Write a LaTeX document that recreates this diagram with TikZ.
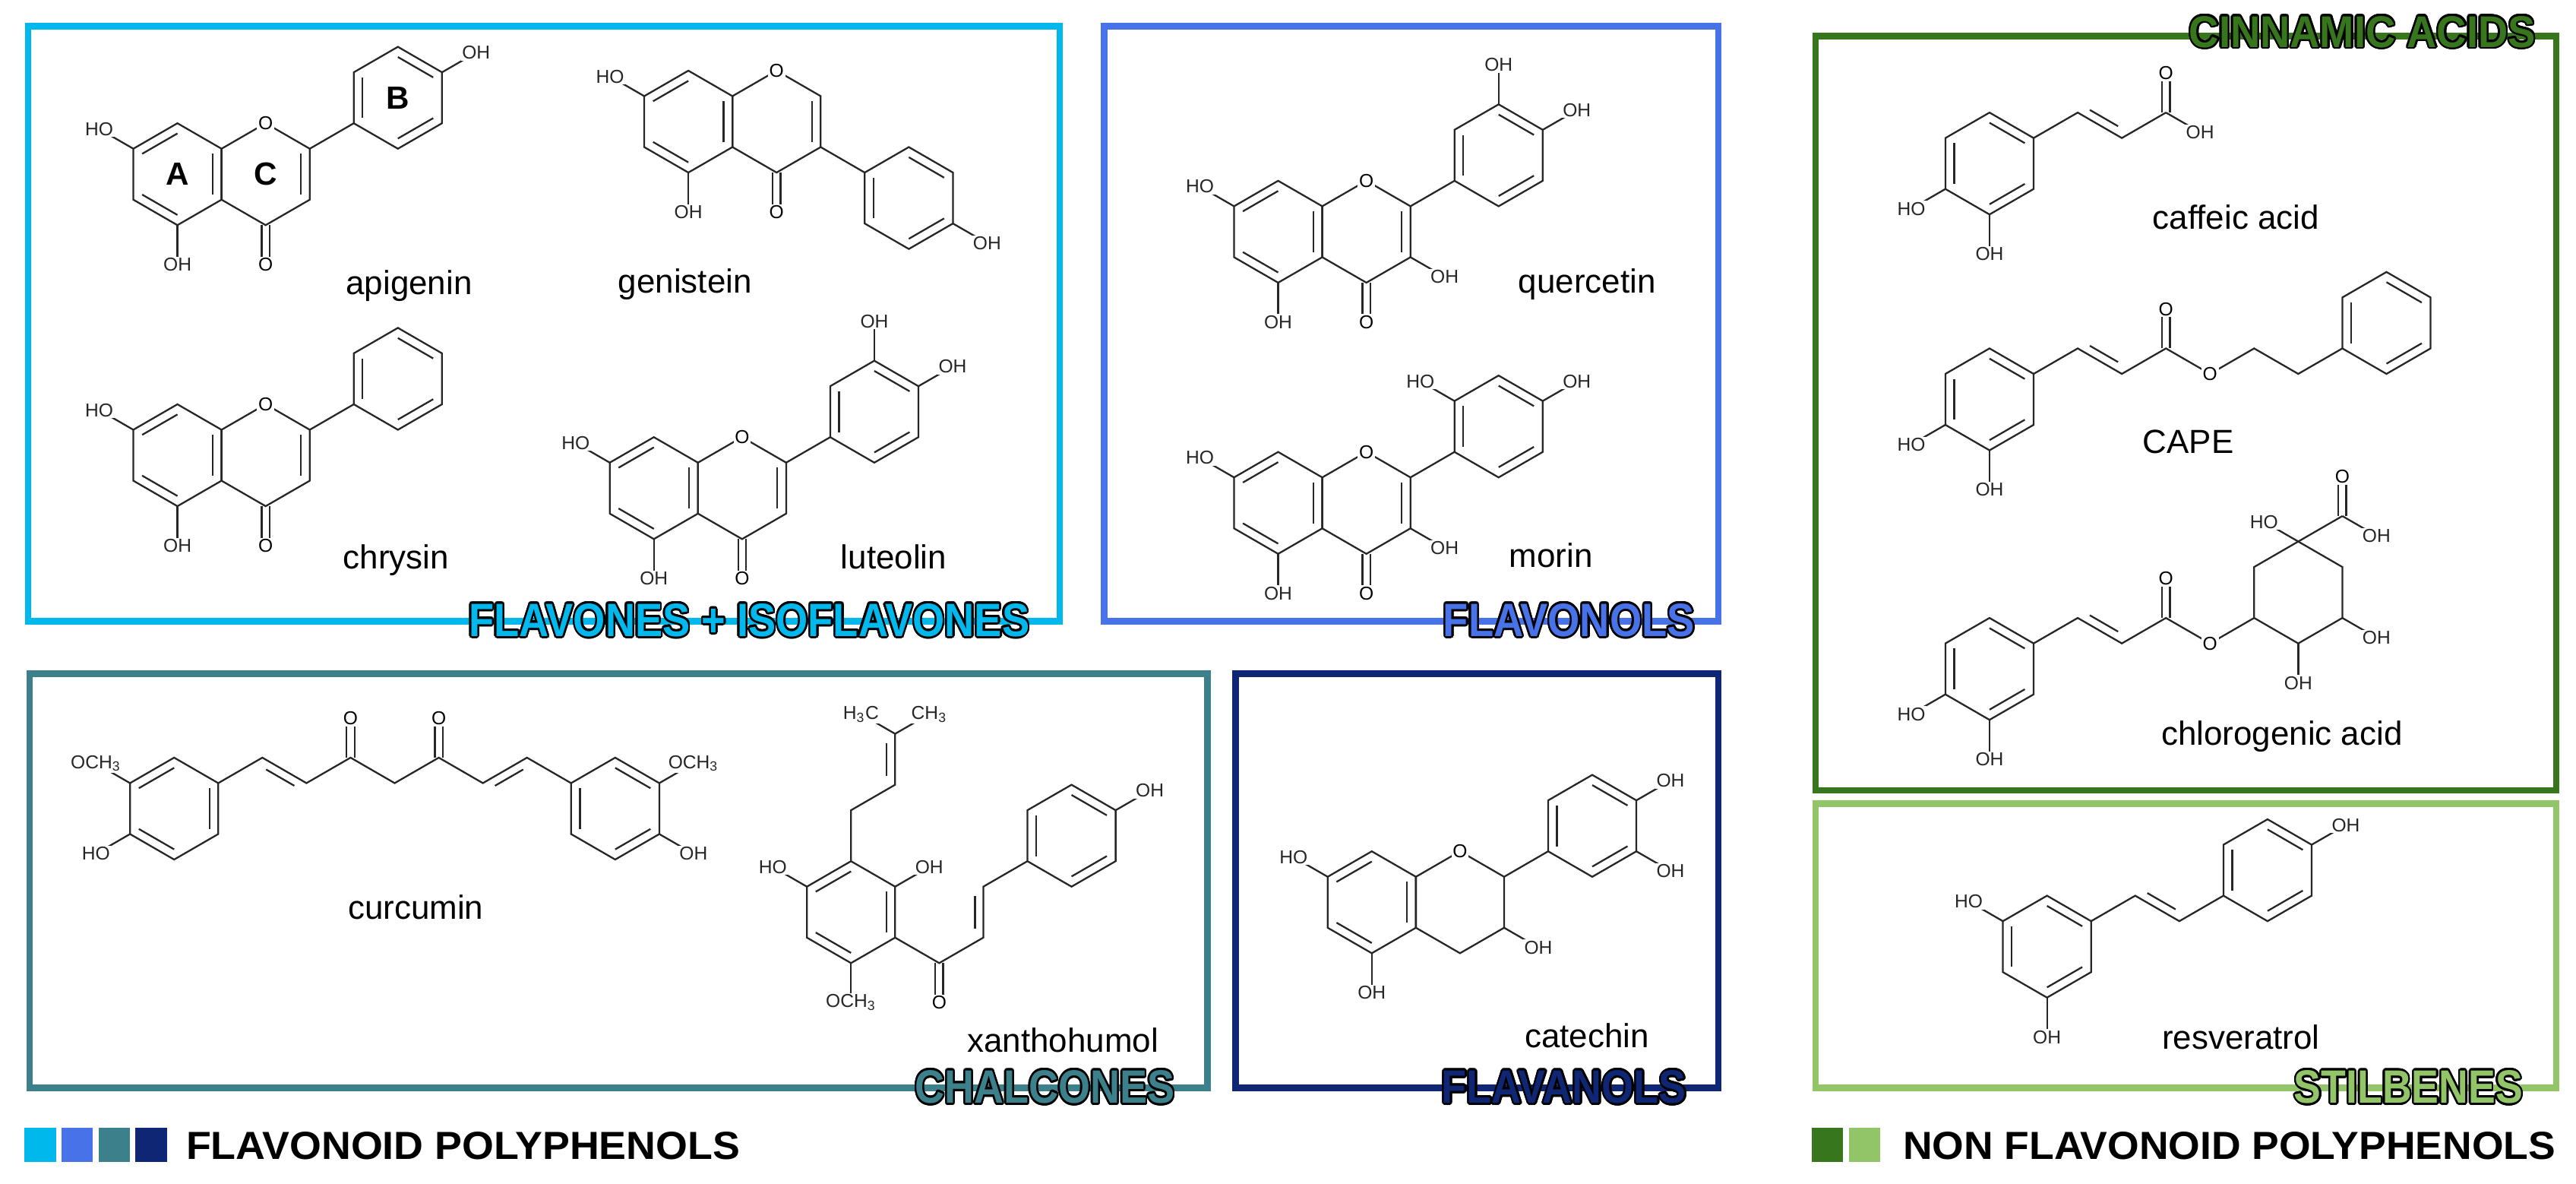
\documentclass[tikz,border=0pt]{standalone}
\usepackage{fontspec}
\setmainfont{Liberation Sans}
\usepackage{graphicx}
\usepackage{contour}
\contourlength{0.45pt}
\contournumber{24}
\usetikzlibrary{calc}

\definecolor{cFlav}{RGB}{0,184,236}
\definecolor{cFlol}{RGB}{72,114,232}
\definecolor{cChal}{RGB}{60,128,140}
\definecolor{cFlan}{RGB}{14,38,116}
\definecolor{cCinn}{RGB}{56,118,30}
\definecolor{cStil}{RGB}{146,196,104}

\tikzset{
  bond/.style={line width=0.65pt,black!85},
  atom/.style={fill=white,inner sep=0.5pt,font=\fontsize{7}{8}\selectfont},
  molname/.style={font=\fontsize{12.5}{14}\selectfont},
  ringlbl/.style={font=\fontsize{12}{14}\selectfont\bfseries},
  box/.style={line width=2.4pt},
  grplabel/.style={inner sep=0pt}
}

\def\bl{31}
% hexagon on the coordinate (#1c), corners #10 (top) ... #15 clockwise
\newcommand\ring[1]{%
  \foreach \i in {0,...,5}{\coordinate (#1\i) at ($(#1c)+(270+60*\i:\bl)$);}
  \draw[bond] (#10)--(#11)--(#12)--(#13)--(#14)--(#15)--cycle;}
\newcommand\dbin[3]{\draw[bond] ($(#1#2)!0.2!(#1c)$) -- ($(#1#3)!0.2!(#1c)$);}
\newcommand\sub[3]{\draw[bond] (#1) -- ++(#2:24) node[atom]{#3};}
\newcommand\dsub[3]{%
  \draw[bond] ($(#1)+(#2+90:2.4)$) -- ++(#2:21);
  \draw[bond] ($(#1)+(#2-90:2.4)$) -- ++(#2:21);
  \path (#1) -- ++(#2:24) node[atom]{#3};}
\newcommand\dside[4]{\draw[bond] ($(#1)!0.18!(#2)!1.1mm!#3:(#2)$) -- ($(#2)!0.18!(#1)!1.1mm!#4:(#1)$);}
\newcommand\chromane[1]{%
  \ring{#1A}\ring{#1C}
  \dbin{#1A}{5}{0}\dbin{#1A}{1}{2}\dbin{#1A}{3}{4}
  \sub{#1A5}{210}{HO}\sub{#1A3}{90}{OH}
  \node[atom] at (#1C0) {O};}
\newcommand\phenyl[1]{\ring{#1}\dbin{#1}{4}{5}\dbin{#1}{0}{1}\dbin{#1}{2}{3}}
\newcommand\grp[3]{\resizebox{#1}{#2}{\bfseries\contour{black}{#3}}}

\begin{document}
\begin{tikzpicture}[x=0.2163mm,y=-0.2163mm]
\useasboundingbox (0,0) rectangle (1568,720);

% boxes
\draw[box,draw=cFlav] (17,16) rectangle (645,378);
\draw[box,draw=cFlol] (672,16) rectangle (1046,378);
\draw[box,draw=cChal] (18,410) rectangle (735,662);
\draw[box,draw=cFlan] (752,410) rectangle (1046,662);
\draw[box,draw=cCinn] (1105,22) rectangle (1556,481);
\draw[box,draw=cStil] (1105,489) rectangle (1556,662);

% apigenin
\coordinate (apAc) at (108,106); \coordinate (apCc) at (161.7,106); \coordinate (apBc) at (242.2,59.5);
\chromane{ap} \dbin{apC}{1}{2} \dsub{apC3}{90}{O}
\phenyl{apB} \draw[bond] (apC1) -- (apB4); \sub{apB1}{330}{OH}
\node[ringlbl] (lblA) at (apAc) {A};
\node[ringlbl] (lblC) at (apCc) {C};
\node[ringlbl] (lblB) at (apBc) {B};
\node[molname] (apigenin) at (249,174) {apigenin};

% genistein
\coordinate (geAc) at (419,74); \coordinate (geCc) at (472.7,74); \coordinate (geBc) at (553.2,120.5);
\chromane{ge} \dbin{geC}{1}{2} \dsub{geC3}{90}{O}
\phenyl{geB} \draw[bond] (geC2) -- (geB5); \sub{geB2}{30}{OH}
\node[molname] (genistein) at (417,173) {genistein};

% chrysin
\coordinate (chAc) at (108,277); \coordinate (chCc) at (161.7,277); \coordinate (chBc) at (242.2,230.5);
\chromane{ch} \dbin{chC}{1}{2} \dsub{chC3}{90}{O}
\phenyl{chB} \draw[bond] (chC1) -- (chB4);
\node[molname] (chrysin) at (241,341) {chrysin};

% luteolin
\coordinate (luAc) at (398,297); \coordinate (luCc) at (451.7,297); \coordinate (luBc) at (532.2,250.5);
\chromane{lu} \dbin{luC}{1}{2} \dsub{luC3}{90}{O}
\phenyl{luB} \draw[bond] (luC1) -- (luB4); \sub{luB0}{270}{OH} \sub{luB1}{330}{OH}
\node[molname] (luteolin) at (544,339) {luteolin};

% quercetin
\coordinate (quAc) at (778,141); \coordinate (quCc) at (831.7,141); \coordinate (quBc) at (912.2,94.5);
\chromane{qu} \dbin{quC}{1}{2} \dsub{quC3}{90}{O} \sub{quC2}{30}{OH}
\phenyl{quB} \draw[bond] (quC1) -- (quB4); \sub{quB0}{270}{OH} \sub{quB1}{330}{OH}
\node[molname] (quercetin) at (966,173) {quercetin};

% morin
\coordinate (moAc) at (778,306); \coordinate (moCc) at (831.7,306); \coordinate (moBc) at (912.2,259.5);
\chromane{mo} \dbin{moC}{1}{2} \dsub{moC3}{90}{O} \sub{moC2}{30}{OH}
\phenyl{moB} \draw[bond] (moC1) -- (moB4); \sub{moB5}{210}{HO} \sub{moB1}{330}{OH}
\node[molname] (morin) at (944,338) {morin};

% catechin
\coordinate (caAc) at (835,549); \coordinate (caCc) at (888.7,549); \coordinate (caBc) at (969.2,502.5);
\chromane{ca} \sub{caC2}{30}{OH}
\phenyl{caB} \draw[bond] (caC1) -- (caB4); \sub{caB1}{330}{OH} \sub{caB2}{30}{OH}
\node[molname] (catechin) at (966,630) {catechin};

% curcumin
\coordinate (cuLc) at (106,492);
\ring{cuL} \dbin{cuL}{5}{0}\dbin{cuL}{1}{2}\dbin{cuL}{3}{4}
\draw[bond] (cuL1) -- ++(330:\bl) coordinate (k1) -- ++(30:\bl) coordinate (k2)
  -- ++(330:\bl) coordinate (k3) -- ++(30:\bl) coordinate (k4)
  -- ++(330:\bl) coordinate (k5) -- ++(30:\bl) coordinate (k6)
  -- ++(330:\bl) coordinate (k7) -- ++(30:\bl) coordinate (k8);
\coordinate (cuRc) at ($(k8)+(30:\bl)$);
\ring{cuR} \dbin{cuR}{0}{1}\dbin{cuR}{2}{3}\dbin{cuR}{4}{5}
\dside{k1}{k2}{-90}{90} \dside{k6}{k7}{-90}{90}
\dsub{k3}{270}{O} \dsub{k5}{270}{O}
\sub{cuL5}{210}{OCH\textsubscript{3}} \sub{cuL4}{150}{HO}
\sub{cuR1}{330}{OCH\textsubscript{3}} \sub{cuR2}{30}{OH}
\node[molname] (curcumin) at (253,552) {curcumin};

% xanthohumol
\coordinate (xAc) at (518,555);
\ring{xA} \dbin{xA}{5}{0}\dbin{xA}{1}{2}\dbin{xA}{3}{4}
\draw[bond] (xA0) -- ++(270:\bl) coordinate (p1) -- ++(330:\bl) coordinate (p2) -- ++(270:\bl) coordinate (p3);
\dside{p2}{p3}{90}{-90}
\sub{p3}{210}{H\textsubscript{3}C} \sub{p3}{330}{CH\textsubscript{3}}
\sub{xA5}{210}{HO} \sub{xA1}{330}{OH} \sub{xA3}{90}{OCH\textsubscript{3}}
\draw[bond] (xA2) -- ++(30:\bl) coordinate (q1) -- ++(330:\bl) coordinate (q2) -- ++(270:\bl) coordinate (q3) -- ++(330:\bl) coordinate (q4);
\dside{q2}{q3}{90}{-90}
\dsub{q1}{90}{O}
\coordinate (xBc) at ($(q4)+(330:\bl)$);
\phenyl{xB} \sub{xB1}{330}{OH}
\node[molname] (xanthohumol) at (647,633) {xanthohumol};

% caffeic acid
\coordinate (cfRc) at (1211,99.5);
\ring{cfR} \dbin{cfR}{0}{1}\dbin{cfR}{2}{3}\dbin{cfR}{4}{5}
\draw[bond] (cfR1) -- ++(330:\bl) coordinate (a1) -- ++(30:\bl) coordinate (a2) -- ++(330:\bl) coordinate (a3);
\dside{a1}{a2}{90}{-90} \dsub{a3}{270}{O} \sub{a3}{30}{OH}
\sub{cfR4}{150}{HO} \sub{cfR3}{90}{OH}
\node[molname] (caffeic) at (1361,132) {caffeic acid};

% CAPE
\coordinate (cpRc) at (1211,243);
\ring{cpR} \dbin{cpR}{0}{1}\dbin{cpR}{2}{3}\dbin{cpR}{4}{5}
\draw[bond] (cpR1) -- ++(330:\bl) coordinate (b1) -- ++(30:\bl) coordinate (b2) -- ++(330:\bl) coordinate (b3)
  -- ++(30:\bl) coordinate (b4) -- ++(330:\bl) coordinate (b5) -- ++(30:\bl) coordinate (b6) -- ++(330:\bl) coordinate (b7);
\dside{b1}{b2}{90}{-90} \dsub{b3}{270}{O}
\node[atom] (cpO) at (b4) {O};
\coordinate (phc) at ($(b7)+(330:\bl)$);
\phenyl{ph}
\sub{cpR4}{150}{HO} \sub{cpR3}{90}{OH}
\node[molname] (CAPE) at (1332,269) {CAPE};

% chlorogenic acid
\coordinate (clRc) at (1211,407);
\ring{clR} \dbin{clR}{0}{1}\dbin{clR}{2}{3}\dbin{clR}{4}{5}
\draw[bond] (clR1) -- ++(330:\bl) coordinate (d1) -- ++(30:\bl) coordinate (d2) -- ++(330:\bl) coordinate (d3)
  -- ++(30:\bl) coordinate (d4) -- ++(330:\bl) coordinate (d5);
\dside{d1}{d2}{90}{-90} \dsub{d3}{270}{O}
\coordinate (qnc) at ($(d5)+(330:\bl)$);
\ring{qn}
\node[atom] (clO) at (d4) {O};
\sub{qn0}{210}{HO}
\draw[bond] (qn0) -- ++(330:\bl) coordinate (c1);
\dsub{c1}{270}{O} \sub{c1}{30}{OH}
\sub{qn2}{30}{OH} \sub{qn3}{90}{OH}
\sub{clR4}{150}{HO} \sub{clR3}{90}{OH}
\node[molname] (chlorogenic) at (1389,448) {chlorogenic acid};

% resveratrol
\coordinate (rAc) at (1246,576);
\ring{rA} \dbin{rA}{0}{1}\dbin{rA}{2}{3}\dbin{rA}{4}{5}
\draw[bond] (rA1) -- ++(330:\bl) coordinate (s1) -- ++(30:\bl) coordinate (s2) -- ++(330:\bl) coordinate (s3);
\dside{s1}{s2}{90}{-90}
\coordinate (rBc) at ($(s3)+(330:\bl)$);
\phenyl{rB} \sub{rB1}{330}{OH}
\sub{rA5}{210}{HO} \sub{rA3}{90}{OH}
\node[molname] (resveratrol) at (1364,631) {resveratrol};

% group labels
\node[grplabel,text=cFlav] (lFlav) at (456,378) {\grp{73.8mm}{4.3mm}{FLAVONES + ISOFLAVONES}};
\node[grplabel,text=cFlol] (lFlol) at (955,378) {\grp{33.1mm}{4.3mm}{FLAVONOLS}};
\node[grplabel,text=cChal] (lChal) at (636,662) {\grp{34.2mm}{4.3mm}{CHALCONES}};
\node[grplabel,text=cFlan] (lFlan) at (952,662) {\grp{32.2mm}{4.3mm}{FLAVANOLS}};
\node[grplabel,text=cCinn] (lCinn) at (1438,20) {\grp{45.6mm}{4.1mm}{CINNAMIC ACIDS}};
\node[grplabel,text=cStil] (lStil) at (1466,662) {\grp{30.1mm}{4.3mm}{STILBENES}};

% legend
\foreach \c [count=\n from 0] in {cFlav,cFlol,cChal,cFlan}
  \fill[\c] (15+22.5*\n,686) rectangle ++(19,21);
\node[anchor=west,inner sep=0pt] (lgFlavo) at (113,697) {\resizebox{72.9mm}{3.6mm}{\bfseries FLAVONOID POLYPHENOLS}};
\foreach \c [count=\n from 0] in {cCinn,cStil}
  \fill[\c] (1103+22.5*\n,686) rectangle ++(19,21);
\node[anchor=west,inner sep=0pt] (lgNon) at (1158,697) {\resizebox{85.9mm}{3.6mm}{\bfseries NON FLAVONOID POLYPHENOLS}};
\end{tikzpicture}
\end{document}
